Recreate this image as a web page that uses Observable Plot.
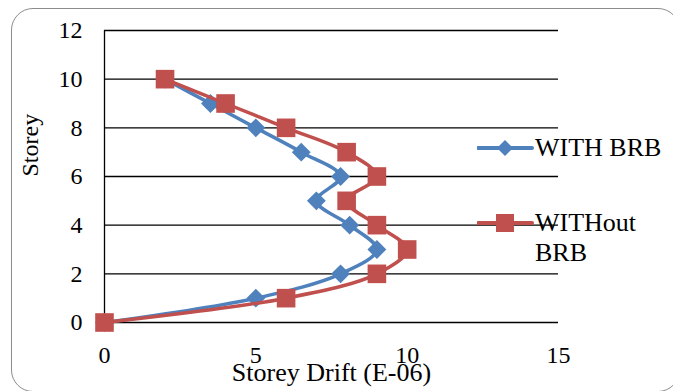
<!DOCTYPE html>
<html>
<head>
<meta charset="utf-8">
<script src="https://cdn.jsdelivr.net/npm/d3@7"></script>
<script src="https://cdn.jsdelivr.net/npm/@observablehq/plot@0.6"></script>
<style>
  html, body { margin: 0; padding: 0; background: #fff; overflow: hidden; }
  #wrap { position: relative; width: 673px; height: 391px; font-family: "Liberation Serif", "DejaVu Serif", serif; }
  #box { position: absolute; left: 11px; top: 8px; width: 669px; height: 384px; box-sizing: border-box;
         border: 1.5px solid #8c8c8c; border-radius: 22px; }
  #chart { position: absolute; left: 0; top: 0; }
  #chart svg text { font-family: "Liberation Serif", "DejaVu Serif", serif; }
  #chart svg g[aria-label$="tick label"] { font-size: 24px; }
  #legend { position: absolute; left: 0; top: 0; width: 673px; height: 391px; pointer-events: none; }
  .key { position: absolute; left: 477px; display: flex; align-items: flex-start; }
  .key svg { display: block; }
  .key span { font-family: "Liberation Serif", "DejaVu Serif", serif; font-size: 26px; line-height: 30px; color: #000; }
</style>
</head>
<body>
<div id="wrap">
  <div id="box"></div>
  <div id="chart"></div>
  <div id="legend"></div>
</div>
<script>
// Storey drift profiles (units of 1E-06) for the frame with and without buckling-restrained braces
const storeys = [0, 1, 2, 3, 4, 5, 6, 7, 8, 9, 10];
const driftWithBRB = [0, 5, 7.8, 9, 8.1, 7, 7.8, 6.5, 5, 3.5, 2];
const driftWithoutBRB = [0, 6, 9, 10, 9, 8, 9, 8, 6, 4, 2];
const seriesNames = ["WITH BRB", "WITHout BRB"];
const seriesColors = ["#4F81BD", "#C0504D"];
const xTicks = [0, 5, 10, 15];
const yTicks = [0, 2, 4, 6, 8, 10, 12];
const xTitle = "Storey Drift (E-06)";
const yTitle = "Storey";

const withRows = storeys.map((s, i) => ({series: seriesNames[0], storey: s, drift: driftWithBRB[i]}));
const withoutRows = storeys.map((s, i) => ({series: seriesNames[1], storey: s, drift: driftWithoutBRB[i]}));

const font = '"Liberation Serif", "DejaVu Serif", serif';

const chart = Plot.plot({
  width: 673,
  height: 391,
  marginLeft: 104,
  marginRight: 115,
  marginTop: 30,
  marginBottom: 69,
  style: {fontFamily: font, fontSize: "24px", background: "transparent", overflow: "visible"},
  x: {domain: [0, 15], ticks: xTicks},
  y: {domain: [0, 12], ticks: yTicks},
  color: {domain: seriesNames, range: seriesColors},
  marks: [
    Plot.ruleY(yTicks, {stroke: "#000", strokeWidth: 1.3}),
    Plot.ruleX([0], {stroke: "#000", strokeWidth: 1.3}),
    Plot.axisX({ticks: xTicks, tickSize: 0, tickPadding: 23, fontSize: 24, fill: "#000", label: null}),
    Plot.axisY({ticks: yTicks, tickSize: 0, tickPadding: 22, fontSize: 24, fill: "#000", label: null}),
    Plot.text([xTitle], {frameAnchor: "bottom", dy: 58, fontSize: 26, fill: "#000", text: d => d}),
    Plot.text([yTitle], {frameAnchor: "left", dx: -74, rotate: -90, fontSize: 24, fill: "#000", text: d => d}),
    Plot.line(withRows, {x: "drift", y: "storey", stroke: "series", strokeWidth: 3.5, curve: "catmull-rom"}),
    Plot.dot(withRows, {x: "drift", y: "storey", fill: "series", symbol: "diamond2", r: 8.5, stroke: null}),
    Plot.line(withoutRows, {x: "drift", y: "storey", stroke: "series", strokeWidth: 3.5, curve: "catmull-rom"}),
    Plot.dot(withoutRows, {x: "drift", y: "storey", fill: "series", symbol: "square", r: 10.5, stroke: null})
  ]
});
document.getElementById("chart").appendChild(chart);

// Legend: line-and-marker swatches to the right of the plot
const legend = d3.select("#legend");
const keyTops = [133, 208];
seriesNames.forEach((name, i) => {
  const key = legend.append("div").attr("class", "key").style("top", keyTops[i] + "px");
  const sw = key.append("svg").attr("width", 58).attr("height", 30);
  sw.append("line").attr("x1", 1).attr("x2", 55).attr("y1", 15).attr("y2", 15)
    .attr("stroke", seriesColors[i]).attr("stroke-width", 4).attr("stroke-linecap", "round");
  if (i === 0) {
    sw.append("path").attr("d", "M28,7L36,15L28,23L20,15Z").attr("fill", seriesColors[i]);
  } else {
    sw.append("rect").attr("x", 19).attr("y", 6).attr("width", 18).attr("height", 18).attr("fill", seriesColors[i]);
  }
  const label = key.append("span");
  const parts = i === 0 ? [name] : ["WITHout", "BRB"];
  parts.forEach((p, j) => { if (j) label.append("br"); label.append("span").text(p); });
});
</script>
</body>
</html>
